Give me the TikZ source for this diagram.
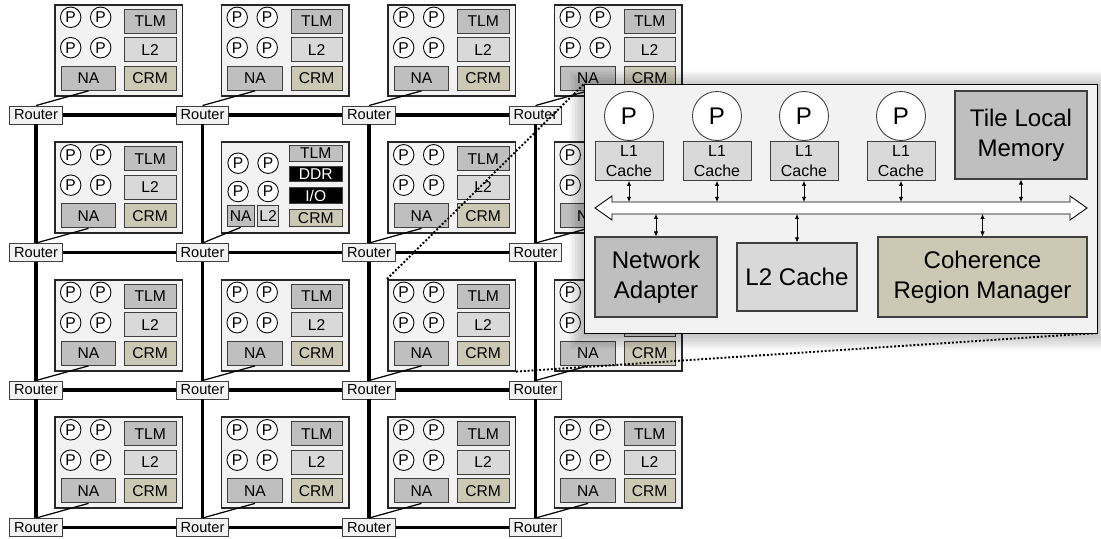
\documentclass[tikz,border=0pt]{standalone}
\usepackage{fontspec}
\setmainfont{Liberation Sans}
\usetikzlibrary{positioning,arrows.meta,calc}
\definecolor{tilegray}{HTML}{F2F2F2}
\definecolor{memgray}{HTML}{BFBFBF}
\definecolor{cachegray}{HTML}{D9D9D9}
\definecolor{crmtan}{HTML}{CBC8B4}
\definecolor{boxedge}{HTML}{3F3F3F}
\newcommand{\tilefont}{\fontsize{8.9}{9.5}\selectfont}
\newcommand{\routerfont}{\fontsize{8.3}{9}\selectfont}
\newcommand{\zoomfont}{\fontsize{13.7}{17}\selectfont}
\tikzset{
  tile/.style={draw=black!85,line width=0.9pt,fill=tilegray,anchor=north west,
    minimum width=2.55cm,minimum height=1.82cm,inner sep=0pt},
  router/.style={draw=boxedge,line width=0.5pt,fill=tilegray,minimum width=1.05cm,
    minimum height=0.36cm,inner sep=0pt,font=\routerfont},
  core/.style={circle,draw=black,line width=0.5pt,fill=white,minimum size=0.41cm,
    inner sep=0pt,font=\tilefont},
  unit/.style={draw=boxedge,line width=0.5pt,anchor=north west,minimum width=1.03cm,
    minimum height=0.48cm,inner sep=0pt,font=\tilefont},
  link/.style={line width=2pt},
  nalink/.style={line width=0.7pt},
  zoomline/.style={line width=1.1pt,dash pattern=on 1.1pt off 1.1pt},
  bigcore/.style={circle,draw=boxedge,line width=0.5pt,fill=white,minimum size=0.98cm,
    inner sep=0pt,font=\zoomfont},
  bigbox/.style={draw=boxedge,line width=0.6pt,inner sep=0pt,align=center,font=\zoomfont},
  l1box/.style={draw=boxedge,line width=0.5pt,fill=cachegray,minimum width=1.36cm,
    minimum height=0.78cm,inner sep=0pt,align=center,font=\fontsize{9.1}{11.4}\selectfont},
  port/.style={{Latex[length=1mm,width=0.9mm]}-{Latex[length=1mm,width=0.9mm]},line width=0.5pt}
}

\begin{document}
\begin{tikzpicture}
  \useasboundingbox (0,0) rectangle (22.02,-10.78);
  % routers and tile frames
  \foreach \i in {0,...,3}{
    \foreach \j in {0,...,3}{
      \node[router] (r\i\j) at ({0.72+3.33*\i},{-2.30-2.75*\j}) {Router};
      \node[tile] (t\i\j) at ({1.08+3.33*\i},{-0.08-2.75*\j}) {};
    }
  }
  % ordinary tiles
  \foreach \i in {0,...,3}{
    \foreach \j in {0,...,3}{
      \ifnum\i\j=11\relax\else
      \begin{scope}[shift={(t\i\j.north west)}]
        \node[core] (pa\i\j) at (0.334,-0.266) {P};
        \node[core] (pb\i\j) at (0.934,-0.266) {P};
        \node[core] (pc\i\j) at (0.334,-0.874) {P};
        \node[core] (pd\i\j) at (0.934,-0.874) {P};
        \node[unit,fill=memgray] (tlm\i\j) at (1.40,-0.10) {TLM};
        \node[unit,fill=cachegray] (ltwo\i\j) at (1.40,-0.67) {L2};
        \node[unit,fill=crmtan] (crm\i\j) at (1.40,-1.24) {CRM};
        \node[unit,fill=memgray,minimum width=1.094cm] (na\i\j) at (0.134,-1.24) {NA};
      \end{scope}
      \fi
    }
  }
  % the tile with the memory controller
  \begin{scope}[shift={(t11.north west)}]
    \node[core] (pa11) at (0.352,-0.434) {P};
    \node[core] (pb11) at (0.952,-0.434) {P};
    \node[core] (pc11) at (0.352,-1.0) {P};
    \node[core] (pd11) at (0.952,-1.0) {P};
    \node[unit,fill=memgray,minimum width=1.05cm,minimum height=0.32cm] (tlm11) at (1.372,-0.066) {TLM};
    \node[unit,fill=black,text=white,minimum width=1.05cm,minimum height=0.30cm] (ddr11) at (1.372,-0.50) {DDR};
    \node[unit,fill=black,text=white,minimum width=1.05cm,minimum height=0.32cm] (io11) at (1.372,-0.912) {I/O};
    \node[unit,fill=crmtan,minimum width=1.05cm,minimum height=0.354cm] (crm11) at (1.372,-1.346) {CRM};
    \node[unit,fill=memgray,minimum width=0.552cm,minimum height=0.434cm] (na11) at (0.12,-1.266) {NA};
    \node[unit,fill=cachegray,minimum width=0.42cm,minimum height=0.434cm] (ltwo11) at (0.732,-1.266) {L2};
  \end{scope}
  % mesh links
  \foreach \i/\k in {0/1,1/2,2/3}{
    \foreach \j in {0,...,3}{
      \draw[link] (r\i\j) -- (r\k\j);
      \draw[link] (r\j\i) -- (r\j\k);
    }
  }
  \foreach \i in {0,...,3}
    \foreach \j in {0,...,3}
      \draw[nalink] (r\i\j.north) -- (na\i\j.south);
  % magnified tile
  \coordinate (zoomnw) at (11.68,-1.68);
  \coordinate (zoomse) at (21.94,-6.66);
  \draw[zoomline] (t22.north west) -- (zoomnw);
  \draw[zoomline] (t22.south east) -- (zoomse);
  \foreach \d in {0.03,0.06,...,0.31}
    \fill[black,opacity=0.025] ($(zoomnw)+(-\d,\d-0.04)$) rectangle ($(zoomse)+(\d,-\d-0.04)$);
  \node[draw=black,line width=0.8pt,fill=tilegray,anchor=north west,minimum width=10.26cm,
    minimum height=4.98cm,inner sep=0pt] (zoom) at (zoomnw) {};
  \node[bigcore] (ca) at (12.58,-2.32) {P};
  \node[bigcore] (cb) at (14.34,-2.32) {P};
  \node[bigcore] (cc) at (16.08,-2.32) {P};
  \node[bigcore] (cd) at (18.02,-2.32) {P};
  \node[l1box,below=0pt of ca] (la) {L1\\Cache};
  \node[l1box,below=0pt of cb] (lb) {L1\\Cache};
  \node[l1box,below=0pt of cc] (lc) {L1\\Cache};
  \node[l1box,below=0pt of cd] (ld) {L1\\Cache};
  \node[bigbox,fill=memgray,minimum width=2.64cm,minimum height=1.76cm] (tlmbig) at (20.42,-2.70) {Tile Local\\Memory};
  \node[bigbox,fill=memgray,minimum width=2.44cm,minimum height=1.60cm] (nabig) at (13.12,-5.54) {Network\\Adapter};
  \node[bigbox,fill=cachegray,minimum width=2.40cm,minimum height=1.36cm] (ltwobig) at (15.94,-5.54) {L2 Cache};
  \node[bigbox,fill=crmtan,minimum width=4.18cm,minimum height=1.60cm] (crmbig) at (19.65,-5.54) {Coherence\\Region Manager};
  % on-tile bus
  \coordinate (bustop) at (0,-4.04);
  \coordinate (busbot) at (0,-4.28);
  \draw[fill=white,line width=0.5pt] (11.90,-4.16) -- (12.24,-3.92) -- (12.24,-4.04) -- (21.40,-4.04)
    -- (21.40,-3.92) -- (21.74,-4.16) -- (21.40,-4.40) -- (21.40,-4.28) -- (12.24,-4.28)
    -- (12.24,-4.40) -- cycle;
  \foreach \n in {la,lb,lc,ld,tlmbig}
    \draw[port] (\n.south) -- (\n.south |- bustop);
  \foreach \n in {nabig,ltwobig,crmbig}
    \draw[port] (\n.north) -- (\n.north |- busbot);
\end{tikzpicture}
\end{document}
